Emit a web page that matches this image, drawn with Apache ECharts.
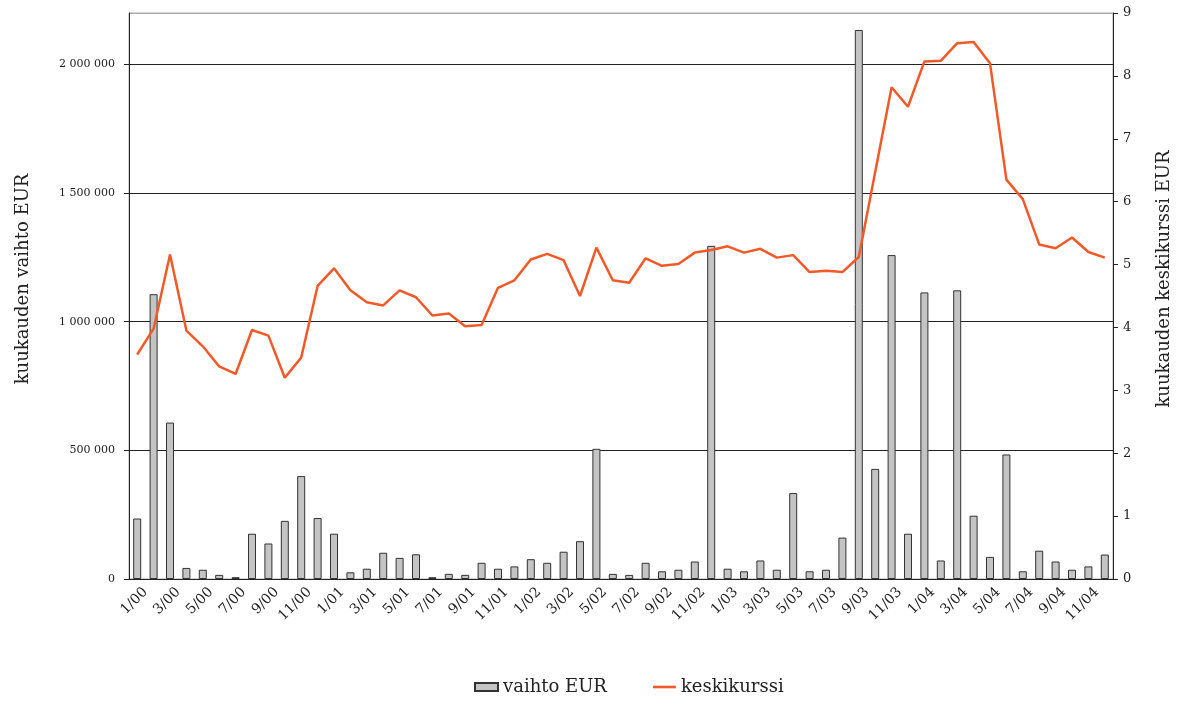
<!DOCTYPE html>
<html>
<head>
<meta charset="utf-8">
<script src="https://cdn.jsdelivr.net/npm/echarts@6/dist/echarts.min.js"></script>
<style>
  html, body { margin: 0; padding: 0; background: #fff; }
  #container { width: 1184px; height: 701px; }
</style>
</head>
<body>
<div id="container"></div>
<script>
var dom = document.getElementById('container');
var myChart = echarts.init(dom, null, { renderer: 'canvas' });

// kuukaudet 1/00 - 12/04
var months = [
    '1/00', '2/00', '3/00', '4/00', '5/00', '6/00', '7/00', '8/00', '9/00', '10/00', '11/00', '12/00',
    '1/01', '2/01', '3/01', '4/01', '5/01', '6/01', '7/01', '8/01', '9/01', '10/01', '11/01', '12/01',
    '1/02', '2/02', '3/02', '4/02', '5/02', '6/02', '7/02', '8/02', '9/02', '10/02', '11/02', '12/02',
    '1/03', '2/03', '3/03', '4/03', '5/03', '6/03', '7/03', '8/03', '9/03', '10/03', '11/03', '12/03',
    '1/04', '2/04', '3/04', '4/04', '5/04', '6/04', '7/04', '8/04', '9/04', '10/04', '11/04', '12/04'
];

// kuukauden vaihto EUR
var vaihto = [
    235000, 1107000, 608000, 43000, 36000, 16000, 7000, 176000, 138000, 226000, 400000, 237000,
    176000, 26000, 40000, 102000, 82000, 96000, 7000, 20000, 16000, 63000, 40000, 49000,
    77000, 63000, 106000, 147000, 506000, 20000, 16000, 63000, 30000, 36000, 68000, 1295000,
    40000, 30000, 72000, 36000, 334000, 30000, 36000, 161000, 2134000, 428000, 1259000, 176000,
    1114000, 72000, 1122000, 246000, 86000, 484000, 30000, 110000, 68000, 36000, 49000, 95000
];

// kuukauden keskikurssi EUR
var kurssi = [
    3.57, 3.98, 5.16, 3.95, 3.70, 3.38, 3.26, 3.96, 3.87, 3.20, 3.52, 4.66,
    4.94, 4.59, 4.40, 4.35, 4.59, 4.48, 4.19, 4.22, 4.02, 4.04, 4.63, 4.75,
    5.08, 5.17, 5.07, 4.50, 5.27, 4.75, 4.71, 5.10, 4.98, 5.01, 5.19, 5.23,
    5.29, 5.19, 5.25, 5.11, 5.15, 4.88, 4.90, 4.88, 5.12, 6.47, 7.82, 7.51,
    8.23, 8.24, 8.52, 8.54, 8.20, 6.35, 6.04, 5.32, 5.26, 5.43, 5.20, 5.11
];

// joka toinen kuukausi akselille
var tickLabels = months.filter(function (m, i) { return i % 2 === 0; });

var font = 'DejaVu Serif';

function spaced(v) {
    return String(v).replace(/\B(?=(\d{3})+(?!\d))/g, ' ');
}

var option = {
    animation: false,
    textStyle: { fontFamily: font, color: '#222' },
    grid: {
        left: 129, right: 71, top: 13, bottom: 122,
        show: true, borderColor: '#aaa', borderWidth: 1
    },
    legend: {
        left: 469, top: 673,
        itemWidth: 23, itemHeight: 8, itemGap: 46,
        textStyle: { fontFamily: font, fontSize: 18, color: '#222' },
        data: [
            { name: 'vaihto EUR', icon: 'rect' },
            { name: 'keskikurssi', icon: 'path://M0,0 L22,0 L22,2.5 L0,2.5 Z' }
        ]
    },
    xAxis: [{
        type: 'category',
        data: months,
        axisLine: { lineStyle: { color: '#222', width: 1 } },
        axisTick: { interval: 1, length: 5, lineStyle: { color: '#222' } },
        axisLabel: { show: false }
    }, {
        type: 'category',
        data: tickLabels,
        position: 'bottom',
        axisLine: { show: false },
        axisTick: { show: false },
        axisLabel: {
            interval: 0, rotate: 45, margin: 11,
            fontFamily: font, fontSize: 14, color: '#222'
        }
    }],
    yAxis: [{
        type: 'value',
        min: 0, max: 2200000, interval: 500000,
        name: 'kuukauden vaihto EUR',
        nameLocation: 'middle', nameRotate: 90, nameGap: 97,
        nameTextStyle: { fontFamily: font, fontSize: 18, color: '#222', padding: [0, 0, 0, 34] },
        axisLine: { show: true, lineStyle: { color: '#222' } },
        axisTick: { show: true, length: 5, lineStyle: { color: '#222' } },
        axisLabel: {
            showMaxLabel: false, margin: 14,
            fontFamily: font, fontSize: 11, color: '#222',
            formatter: spaced
        },
        splitLine: { lineStyle: { color: ['#222', '#222', '#222', '#222', '#222', '#aaa'], width: 1 } }
    }, {
        type: 'value',
        min: 0, max: 9, interval: 1,
        name: 'kuukauden keskikurssi EUR',
        nameLocation: 'middle', nameRotate: 90, nameGap: 42,
        nameTextStyle: { fontFamily: font, fontSize: 18, color: '#222', padding: [0, 0, 0, 34] },
        axisLine: { show: true, lineStyle: { color: '#222' } },
        axisTick: { show: true, length: 5, lineStyle: { color: '#222' } },
        axisLabel: { margin: 10, fontFamily: font, fontSize: 13, color: '#222' },
        splitLine: { show: false }
    }],
    series: [{
        name: 'vaihto EUR',
        type: 'bar',
        xAxisIndex: 0, yAxisIndex: 0,
        barWidth: 8,
        itemStyle: { color: '#c4c4c4', borderColor: '#333', borderWidth: 1 },
        data: vaihto
    }, {
        name: 'keskikurssi',
        type: 'line',
        xAxisIndex: 0, yAxisIndex: 1,
        symbol: 'none',
        lineStyle: { color: '#f05a28', width: 2.5 },
        itemStyle: { color: '#f05a28' },
        z: 3,
        data: kurssi
    }]
};

myChart.setOption(option);
</script>
</body>
</html>
